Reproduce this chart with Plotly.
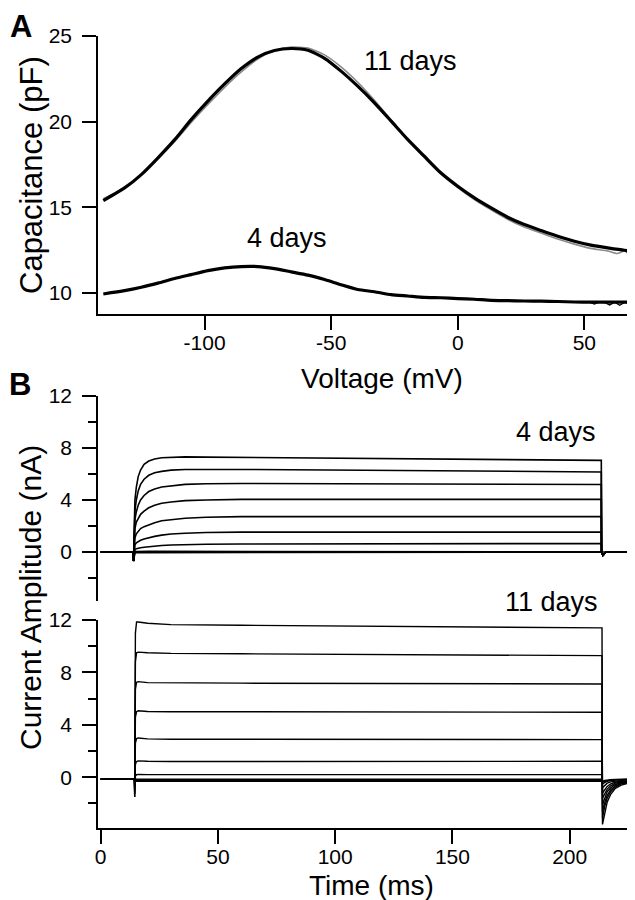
import plotly.graph_objects as go

# ---------------- Panel A data (capacitance vs voltage) ----------------
v11 = [-140, -131.6, -125, -118.4, -111.8, -105.3, -98.7, -92.1, -85.5, -79, -72.4, -65.8,
       -59.2, -52.6, -46.1, -39.5, -32.9, -26.3, -19.7, -13.2, -6.6, 0, 6.6, 13.2, 19.7,
       26.3, 32.9, 39.5, 46.1, 52.6, 59.2, 65.8, 70.4]
c11_fit = [15.39, 16.13, 16.91, 17.89, 18.95, 20.12, 21.2, 22.2, 23.1, 23.77, 24.15, 24.27,
           24.17, 23.7, 22.95, 22.07, 21.1, 20.03, 18.95, 17.98, 17.0, 16.23, 15.55, 14.96,
           14.42, 13.99, 13.64, 13.31, 13.02, 12.79, 12.63, 12.49, 12.44]
v11_gray = [-140, -131.6, -125, -118.4, -111.8, -105.3, -98.7, -92.1, -85.5, -79, -72.4, -65.8,
            -59.2, -52.6, -46.1, -39.5, -32.9, -26.3, -19.7, -13.2, -6.6, 0, 6.6, 13.2, 19.7,
            26.3, 32.9, 39.5, 46.1, 52.6, 59.2, 63, 66, 68, 70.4]
c11_gray = [15.5, 16.15, 16.9, 17.85, 18.85, 19.95, 21.0, 22.0, 22.9, 23.65, 24.15, 24.35,
            24.3, 23.9, 23.2, 22.3, 21.25, 20.1, 18.95, 17.9, 16.95, 16.15, 15.45, 14.85,
            14.3, 13.85, 13.5, 13.15, 12.85, 12.6, 12.45, 12.3, 12.45, 12.2, 12.15]
v4 = [-140, -131.6, -125, -118.4, -111.8, -105.3, -98.7, -92.1, -85.5, -79, -72.4, -65.8,
      -59.2, -52.6, -46.1, -39.5, -32.9, -26.3, -19.7, -13.2, -6.6, 0, 6.6, 13.2, 19.7,
      26.3, 32.9, 39.5, 46.1, 52.6, 59.2, 65.8, 70.4]
c4 = [9.94, 10.13, 10.33, 10.57, 10.84, 11.07, 11.3, 11.46, 11.54, 11.54, 11.42, 11.23,
      11.04, 10.78, 10.48, 10.2, 10.07, 9.9, 9.82, 9.74, 9.72, 9.67, 9.63, 9.57, 9.55,
      9.53, 9.52, 9.5, 9.47, 9.46, 9.46, 9.46, 9.46]
v4_noise = [48, 52, 54, 56, 58, 60, 62, 64, 66, 68, 70.4]
c4_noise = [9.47, 9.46, 9.35, 9.47, 9.44, 9.3, 9.46, 9.28, 9.46, 9.33, 9.44]

# ---------------- Panel B data (current traces) ----------------
# 4 days
t4_base = [0, 13.9]
t4_rise = [14.0, 14.3, 14.6, 15.2, 16.0, 17.0, 18.5, 20.5, 23.0, 26.0, 30.0, 36.0, 45.0, 60.0]
i4_rise = [
    [-0.7, 2.5, 4.0, 5.0, 5.8, 6.3, 6.75, 7.0, 7.15, 7.25, 7.3, 7.32, 7.3, 7.28],
    [-0.7, 2.0, 3.2, 4.0, 4.7, 5.2, 5.6, 5.9, 6.1, 6.2, 6.3, 6.35, 6.36, 6.35],
    [-0.7, 1.6, 2.5, 3.1, 3.6, 4.0, 4.35, 4.65, 4.85, 5.0, 5.1, 5.2, 5.25, 5.27],
    [-0.7, 1.2, 1.8, 2.3, 2.6, 2.9, 3.15, 3.4, 3.6, 3.75, 3.85, 3.95, 4.0, 4.05],
    [-0.7, 0.8, 1.1, 1.4, 1.6, 1.8, 1.95, 2.1, 2.25, 2.4, 2.5, 2.6, 2.67, 2.72],
    [-0.7, 0.4, 0.55, 0.7, 0.8, 0.9, 1.0, 1.1, 1.2, 1.3, 1.38, 1.44, 1.5, 1.53],
    [-0.7, 0.15, 0.2, 0.25, 0.3, 0.33, 0.37, 0.42, 0.46, 0.5, 0.54, 0.57, 0.6, 0.61],
    [-0.7, 0.02, 0.03, 0.04, 0.05, 0.05, 0.05, 0.05, 0.05, 0.05, 0.05, 0.05, 0.05, 0.05],
    [-0.7, -0.05, -0.05, -0.05, -0.05, -0.05, -0.05, -0.05, -0.05, -0.05, -0.05, -0.05, -0.05, -0.05],
]
i4_end = [7.05, 6.16, 5.19, 4.05, 2.72, 1.53, 0.65, 0.05, -0.05]
t4_off = 213.5
t4_after = [213.6, 214.2, 215.5, 230.0]
i4_after = [0.0, -0.25, 0.0, 0.0]

# 11 days
t11_base = [0, 14.4]
i11_base = -0.15
t11_rise = [14.5, 14.8, 15.3, 16.0, 20.0, 30.0, 60.0]
i11_rise = [
    [-1.5, 11.0, 11.85, 11.85, 11.75, 11.65, 11.6],
    [-1.5, 8.8, 9.5, 9.55, 9.5, 9.45, 9.42],
    [-1.3, 6.7, 7.25, 7.3, 7.22, 7.2, 7.18],
    [-1.2, 4.6, 5.0, 5.08, 5.02, 5.0, 5.0],
    [-1.0, 2.6, 2.95, 3.0, 2.93, 2.9, 2.9],
    [-0.8, 1.0, 1.2, 1.25, 1.22, 1.2, 1.2],
    [-0.6, 0.1, 0.2, 0.22, 0.2, 0.2, 0.2],
    [-0.5, -0.1, -0.15, -0.15, -0.15, -0.15, -0.15],
    [-0.4, -0.2, -0.25, -0.25, -0.25, -0.25, -0.25],
    [-0.3, -0.3, -0.32, -0.33, -0.33, -0.33, -0.33],
]
i11_end = [11.4, 9.28, 7.12, 4.96, 2.87, 1.22, 0.2, -0.15, -0.25, -0.33]
t11_off = 213.8
t11_tail = [214.0, 215.0, 216.0, 217.5, 219.5, 222.0, 225.0, 230.0]
i11_tail = [
    [-3.6, -2.6, -1.9, -1.3, -0.85, -0.6, -0.45, -0.35],
    [-3.1, -2.2, -1.6, -1.1, -0.75, -0.5, -0.4, -0.32],
    [-2.6, -1.9, -1.4, -0.95, -0.65, -0.45, -0.35, -0.3],
    [-2.1, -1.5, -1.1, -0.8, -0.55, -0.4, -0.32, -0.28],
    [-1.6, -1.2, -0.9, -0.65, -0.45, -0.35, -0.3, -0.25],
    [-1.2, -0.9, -0.7, -0.5, -0.38, -0.3, -0.25, -0.22],
    [-0.8, -0.6, -0.45, -0.35, -0.28, -0.24, -0.2, -0.2],
    [-0.5, -0.4, -0.3, -0.25, -0.2, -0.18, -0.17, -0.17],
    [-0.35, -0.3, -0.25, -0.2, -0.18, -0.17, -0.16, -0.16],
    [-0.3, -0.25, -0.2, -0.18, -0.16, -0.15, -0.15, -0.15],
]

# tick labels
a_xticks = [-100, -50, 0, 50]
a_yticks = [10, 15, 20, 25]
b_xticks = [0, 50, 100, 150, 200]
b_yticks = [0, 4, 8, 12]

W, H = 635, 900
FONT = "Liberation Sans, Arial, Helvetica, sans-serif"


def px(x):
    return x / W


def py(y):
    return 1 - y / H


fig = go.Figure()

# Panel A traces
fig.add_trace(go.Scatter(x=v11_gray, y=c11_gray, mode="lines", xaxis="x", yaxis="y",
                         line=dict(color="#8a8a8a", width=1.6, shape="spline", smoothing=0.6)))
fig.add_trace(go.Scatter(x=v11, y=c11_fit, mode="lines", xaxis="x", yaxis="y",
                         line=dict(color="black", width=3.2, shape="spline", smoothing=0.6)))
fig.add_trace(go.Scatter(x=v4_noise, y=c4_noise, mode="lines", xaxis="x", yaxis="y",
                         line=dict(color="black", width=1.3)))
fig.add_trace(go.Scatter(x=v4, y=c4, mode="lines", xaxis="x", yaxis="y",
                         line=dict(color="black", width=3.2, shape="spline", smoothing=0.6)))

# Panel B top (4 days)
for k in range(len(i4_rise)):
    xs = t4_base + t4_rise + [t4_off] + t4_after
    ys = [0, 0] + i4_rise[k] + [i4_end[k]] + i4_after
    fig.add_trace(go.Scatter(x=xs, y=ys, mode="lines", xaxis="x3", yaxis="y2",
                             line=dict(color="black", width=1.6)))
fig.add_trace(go.Scatter(x=[0, 230], y=[0, 0], mode="lines", xaxis="x3", yaxis="y2",
                         line=dict(color="black", width=1.6)))

# Panel B bottom (11 days)
for k in range(len(i11_rise)):
    xs = t11_base + t11_rise + [t11_off] + t11_tail
    ys = [i11_base, i11_base] + i11_rise[k] + [i11_end[k]] + i11_tail[k]
    fig.add_trace(go.Scatter(x=xs, y=ys, mode="lines", xaxis="x2", yaxis="y3",
                             line=dict(color="black", width=1.4)))

axis_common = dict(showgrid=False, zeroline=False, showline=True, linecolor="black",
                   linewidth=1.6, ticks="outside", tickcolor="black", tickwidth=1.6,
                   ticklen=14, tickfont=dict(family=FONT, size=21, color="black"),
                   automargin=False, fixedrange=True)

fig.update_layout(
    width=W, height=H, autosize=False,
    margin=dict(l=0, r=0, t=0, b=0),
    paper_bgcolor="white", plot_bgcolor="white",
    showlegend=False,
    xaxis=dict(axis_common, domain=[px(90), px(632)], range=[-142.1, 72], anchor="y",
               tickvals=a_xticks, ticktext=[str(v) for v in a_xticks], ticklabelstandoff=-5),
    yaxis=dict(axis_common, domain=[py(306), py(28)], range=[8.77, 25.0], anchor="x",
               tickvals=a_yticks, ticktext=[str(v) for v in a_yticks], ticklabelstandoff=6),
    xaxis2=dict(axis_common, domain=[px(90), px(632)], range=[-1.15, 230], anchor="y3",
                tickvals=b_xticks, ticktext=[str(v) for v in b_xticks], ticklabelstandoff=-5),
    xaxis3=dict(domain=[px(90), px(632)], range=[-1.15, 230], anchor="y2", visible=False,
                matches="x2", fixedrange=True),
    yaxis2=dict(axis_common, domain=[py(593), py(388)], range=[-3.77, 12], anchor="x3",
                tickvals=b_yticks, ticktext=[str(v) for v in b_yticks], ticklabelstandoff=6,
                minor=dict(tickvals=[-2, 2, 6, 10], ticks="outside", ticklen=8,
                           tickwidth=1.6, tickcolor="black")),
    yaxis3=dict(axis_common, domain=[py(820), py(612)], range=[-3.87, 12], anchor="x2",
                tickvals=b_yticks, ticktext=[str(v) for v in b_yticks], ticklabelstandoff=6,
                minor=dict(tickvals=[-2, 2, 6, 10], ticks="outside", ticklen=8,
                           tickwidth=1.6, tickcolor="black")),
)

ann = []


def add_text(text, x, y, size, angle=0, bold=False):
    ann.append(dict(text=("<b>%s</b>" % text) if bold else text, x=px(x), y=py(y),
                    xref="paper", yref="paper", showarrow=False, textangle=angle,
                    xanchor="center", yanchor="middle",
                    font=dict(family=FONT, size=size, color="black")))


add_text("A", 13, 19, 31, bold=True)
add_text("B", 12, 376, 31, bold=True)
add_text("Capacitance (pF)", 23, 167, 31, angle=-90)
add_text("Voltage (mV)", 374, 370, 28)
add_text("Current Amplitude (nA)", 22, 590, 30, angle=-90)
add_text("Time (ms)", 363, 877, 28)
add_text("11 days", 402, 53, 27)
add_text("4 days", 279, 230, 27)
add_text("4 days", 548, 424, 27)
add_text("11 days", 543, 594, 27)

fig.update_layout(annotations=ann)

fig.write_html("out.html")
